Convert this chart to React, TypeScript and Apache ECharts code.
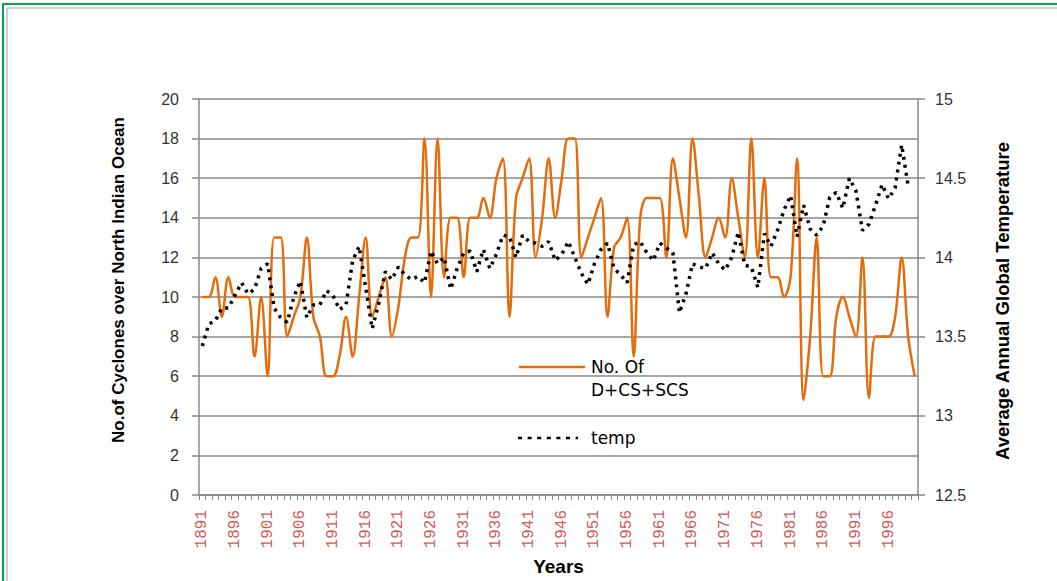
import React, { useEffect, useRef } from "react";
import * as echarts from "echarts";

const startYear = 1891;
const endYear = 2000;
const years: string[] = [];
for (let y = startYear; y <= endYear; y++) years.push(String(y));

// No. of D+CS+SCS per year (1891-2000)
const cyclones = [
  10, 10, 11, 9, 11, 10, 10, 10, 7, 10,
  6, 13, 13, 8, 9, 10, 13, 9, 8, 6,
  6, 7, 9, 7, 10, 13, 9, 10, 11, 8,
  9.5, 12, 13, 13, 18, 10, 18, 11, 14, 14,
  11, 14, 14, 15, 14, 16, 17, 9, 15, 16,
  17, 12, 14, 17, 14, 16, 18, 18, 12, 13,
  14, 15, 9, 12.5, 13, 14, 7, 14, 15, 15,
  15, 12, 17, 15, 13, 18, 15, 12, 13, 14,
  13, 16, 14, 12, 18, 12, 16, 11, 11, 10,
  11, 17, 4.8, 8, 13, 6, 6, 9, 10, 9,
  8, 12, 4.9, 8, 8, 8, 9, 12, 8, 6,
];

// Average annual global temperature (1891-1999)
const temperature = [
  13.44, 13.58, 13.6, 13.68, 13.68, 13.76, 13.84, 13.77, 13.8, 13.93,
  13.96, 13.68, 13.62, 13.59, 13.75, 13.85, 13.62, 13.7, 13.7, 13.79,
  13.76, 13.67, 13.7, 13.98, 14.07, 13.81, 13.55, 13.71, 13.91, 13.86,
  13.94, 13.89, 13.86, 13.88, 13.84, 14.04, 13.96, 14.0, 13.8, 13.93,
  14.03, 14.04, 13.91, 14.05, 13.93, 14.02, 14.14, 14.13, 14.0, 14.14,
  14.1, 14.09, 14.07, 14.1, 13.98, 14.02, 14.1, 14.0, 13.9, 13.83,
  13.96, 14.05, 14.09, 13.93, 13.89, 13.84, 14.08, 14.1, 14.03, 13.98,
  14.09, 14.06, 14.03, 13.65, 13.77, 13.96, 13.94, 13.93, 14.03, 13.96,
  13.92, 14.0, 14.16, 13.95, 13.94, 13.81, 14.15, 14.07, 14.17, 14.3,
  14.39, 14.13, 14.33, 14.18, 14.14, 14.2, 14.38, 14.41, 14.31, 14.5,
  14.42, 14.17, 14.21, 14.33, 14.46, 14.37, 14.44, 14.71, 14.45, null,
];

const seriesNames = ["No. Of D+CS+SCS", "temp"];
const legendLines = ["No. Of", "D+CS+SCS"];
const leftTitle = "No.of Cyclones over North Indian Ocean";
const rightTitle = "Average Annual Global Temperature";
const xTitle = "Years";

const ORANGE = "#E46C0A";
const GRID = "#888888";
const W = 1057;
const H = 581;

export default function App() {
  const ref = useRef<HTMLDivElement>(null);
  useEffect(() => {
    if (!ref.current) return;
    const chart = echarts.init(ref.current, undefined, { renderer: "svg", width: W, height: H });
    const titleFont = "bold 17px 'Liberation Sans', Arial, sans-serif";
    const rightTitleFont = "bold 18.5px 'Liberation Sans', Arial, sans-serif";
    chart.setOption({
      animation: false,
      backgroundColor: "#ffffff",
      grid: { left: 199, right: 139, top: 99, bottom: 81, containLabel: false },
      xAxis: {
        type: "category",
        data: years,
        boundaryGap: true,
        axisLine: { lineStyle: { color: GRID, width: 1.5 } },
        axisTick: { show: true, interval: 0, length: 5, lineStyle: { color: GRID, width: 1 } },
        axisLabel: {
          interval: 4,
          rotate: 90,
          margin: 15,
          color: "#cf5b5a",
          fontFamily: "'Liberation Mono', monospace",
          fontSize: 16,
        },
        splitLine: { show: false },
        name: xTitle,
        nameLocation: "middle",
        nameGap: 62,
        nameTextStyle: { fontFamily: "'Liberation Sans', Arial", fontWeight: "bold", fontSize: 19, color: "#000" },
      },
      yAxis: [
        {
          type: "value",
          min: 0,
          max: 20,
          interval: 2,
          position: "left",
          axisLine: { show: true, lineStyle: { color: GRID, width: 1.5 } },
          axisTick: { show: true, length: 7, lineStyle: { color: GRID, width: 1.5 } },
          axisLabel: { margin: 20, color: "#333", fontSize: 16, fontFamily: "'Liberation Sans', Arial" },
          splitLine: { show: true, lineStyle: { color: GRID, width: 1.5 } },
        },
        {
          type: "value",
          min: 12.5,
          max: 15,
          interval: 0.5,
          position: "right",
          axisLine: { show: true, lineStyle: { color: GRID, width: 1.5 } },
          axisTick: { show: true, length: 7, lineStyle: { color: GRID, width: 1.5 } },
          axisLabel: { margin: 17, color: "#333", fontSize: 16, fontFamily: "'Liberation Sans', Arial" },
          splitLine: { show: false },
        },
      ],
      series: [
        {
          name: seriesNames[0],
          type: "line",
          data: cyclones,
          yAxisIndex: 0,
          smooth: 0.35,
          symbol: "none",
          lineStyle: { color: ORANGE, width: 2.5 },
          z: 2,
        },
        {
          name: seriesNames[1],
          type: "line",
          data: temperature,
          yAxisIndex: 1,
          symbol: "none",
          lineStyle: { color: "#000", width: 3.5, type: [3, 5] },
          z: 3,
        },
      ],
      graphic: [
        { type: "rect", silent: true, shape: { x: 3, y: 4, width: 1200, height: 700 }, style: { fill: "none", stroke: "#00a650", lineWidth: 2 } },
        { type: "rect", silent: true, shape: { x: 7, y: 8, width: 1200, height: 700 }, style: { fill: "none", stroke: "#a0a0a0", lineWidth: 1 } },
        {
          type: "text",
          x: 118,
          y: 280,
          rotation: Math.PI / 2,
          style: { text: leftTitle, font: titleFont, fill: "#000", align: "center", verticalAlign: "middle" },
        },
        {
          type: "text",
          x: 1002,
          y: 301,
          rotation: Math.PI / 2,
          style: { text: rightTitle, font: rightTitleFont, fill: "#000", align: "center", verticalAlign: "middle" },
        },
        { type: "line", shape: { x1: 519, y1: 367, x2: 585, y2: 367 }, style: { stroke: ORANGE, lineWidth: 2.5 } },
        { type: "text", x: 591, y: 367, style: { text: legendLines[0], font: "17px 'DejaVu Sans'", fill: "#000", verticalAlign: "middle" } },
        { type: "text", x: 591, y: 390, style: { text: legendLines[1], font: "17px 'DejaVu Sans'", fill: "#000", verticalAlign: "middle" } },
        { type: "line", shape: { x1: 518, y1: 438, x2: 578, y2: 438 }, style: { stroke: "#000", lineWidth: 2.5, lineDash: [4, 5.6] } },
        { type: "text", x: 591, y: 438, style: { text: seriesNames[1], font: "17px 'DejaVu Sans'", fill: "#000", verticalAlign: "middle" } },
      ],
    });
    return () => chart.dispose();
  }, []);
  return (
    <div
      ref={ref}
      style={{ position: "absolute", left: 0, top: 0, width: W, height: H, background: "#fff" }}
    />
  );
}
